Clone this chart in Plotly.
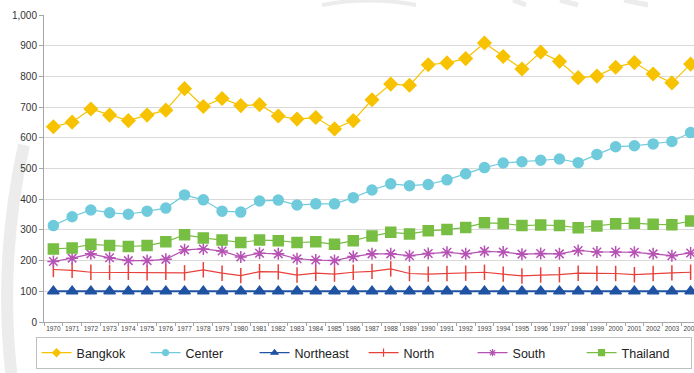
import plotly.graph_objects as go

years = [str(y) for y in range(1970, 2005)]

bangkok = [636, 651, 694, 674, 656, 674, 690, 760, 702, 728,
           705, 708, 671, 661, 666, 629, 656, 724, 775, 771,
           838, 844, 858, 909, 865, 824, 879, 849, 796, 801,
           830, 845, 808, 779, 840]
center = [314, 343, 365, 356, 351, 361, 371, 414, 398, 361,
          358, 394, 397, 381, 385, 385, 405, 430, 450, 444,
          448, 463, 483, 503, 518, 522, 527, 531, 519, 546,
          571, 574, 580, 588, 617]
northeast = [100] * 35
north = [171, 168, 162, 162, 162, 160, 162, 160, 170, 159,
         151, 164, 163, 153, 159, 156, 162, 165, 173, 158,
         156, 158, 159, 162, 156, 150, 153, 154, 159, 158,
         158, 154, 158, 160, 162]
south = [197, 208, 222, 209, 200, 200, 204, 235, 238, 231,
         212, 224, 222, 206, 202, 200, 213, 222, 222, 216,
         223, 227, 222, 230, 228, 221, 223, 222, 233, 228,
         228, 227, 222, 216, 225]
thailand = [238, 241, 253, 249, 246, 249, 261, 284, 274, 267,
            259, 267, 265, 259, 261, 253, 265, 280, 292, 287,
            297, 301, 308, 323, 321, 314, 316, 314, 307, 313,
            320, 322, 318, 317, 329]

series = [
    ("Bangkok", bangkok, "#F7C200", "diamond", 10, 1.2),
    ("Center", center, "#6FCBDC", "circle", 10, 1.2),
    ("Northeast", northeast, "#2153A3", "triangle-up", 10, 2.0),
    ("North", north, "#E8403B", "line-ns-open", 11, 1.2),
    ("South", south, "#B552B4", "asterisk-open", 10, 1.2),
    ("Thailand", thailand, "#77BE43", "square", 10, 1.2),
]

fig = go.Figure()
for name, vals, color, sym, size, lw in series:
    fig.add_trace(go.Scatter(
        x=years, y=vals, name=name, mode="lines+markers",
        line=dict(color=color, width=lw),
        marker=dict(symbol=sym, size=size, color=color,
                    line=dict(color=color, width=1.5)),
        showlegend=False,
    ))
# legend entries use smaller markers than the plotted points
for name, vals, color, sym, size, lw in series:
    fig.add_trace(go.Scatter(
        x=[None], y=[None], name=name, mode="lines+markers",
        line=dict(color=color, width=1.2),
        marker=dict(symbol=sym, size=6, color=color,
                    line=dict(color=color, width=1.2)),
        showlegend=True,
    ))

# faint watermark strokes behind the chart (pixel coords -> paper coords)
L, T, W, H = 44, 15, 650, 307


def px(x, y):
    return (x - L) / W, (T + H - y) / H


def path(points, cmd):
    out = []
    for c, (x, y) in zip(cmd, points):
        xx, yy = px(x, y)
        out.append(f"{c} {xx:.4f} {yy:.4f}")
    return " ".join(out)


wm = "#ECECEC"
shapes = [
    dict(type="path", xref="paper", yref="paper", layer="below",
         path=path([(24, 145), (-2, 262), (12, 380)], ["M", "Q", ""]),
         line=dict(color=wm, width=12)),
    dict(type="path", xref="paper", yref="paper", layer="below",
         path=path([(322, 5), (370, -4), (416, 5)], ["M", "Q", ""]),
         line=dict(color=wm, width=4)),
]
for x0, x1 in [(513, 526), (560, 578), (624, 648)]:
    a, b = px(x0, 0)
    c, d = px(x1, 5)
    shapes.append(dict(type="line", xref="paper", yref="paper", layer="below",
                       x0=a, y0=b, x1=c, y1=d,
                       line=dict(color=wm, width=5)))

font = "Liberation Sans, Arial, sans-serif"
fig.update_layout(
    width=694, height=373,
    margin=dict(l=L, r=0, t=T, b=373 - T - H, autoexpand=False),
    paper_bgcolor="white", plot_bgcolor="white",
    font=dict(family=font, color="#333333"),
    showlegend=True,
    shapes=shapes,
    legend=dict(
        orientation="h", x=-0.013, xanchor="left", y=-0.049, yanchor="top",
        bordercolor="#BFBFBF", borderwidth=1,
        font=dict(size=12.5, color="#222222", family=font),
        entrywidth=64, entrywidthmode="pixels",
        itemwidth=30, tracegroupgap=0,
    ),
    xaxis=dict(
        type="category", range=[-0.5, 34.18], automargin=False,
        showgrid=False, showline=True, linecolor="#A6A6A6", linewidth=1,
        ticks="outside", ticklen=3, tickcolor="#A6A6A6",
        tickson="boundaries", tickangle=0,
        tickfont=dict(size=6.5, color="#444444"),
    ),
    yaxis=dict(
        range=[0, 1000], dtick=100, tickformat=",d", automargin=False,
        showgrid=True, gridcolor="#D9D9D9", gridwidth=1,
        showline=True, linecolor="#A6A6A6", linewidth=1,
        ticks="outside", ticklen=4, tickcolor="#A6A6A6",
        tickfont=dict(size=10, color="#333333"),
        zeroline=False,
    ),
)

fig.write_html("out.html")
